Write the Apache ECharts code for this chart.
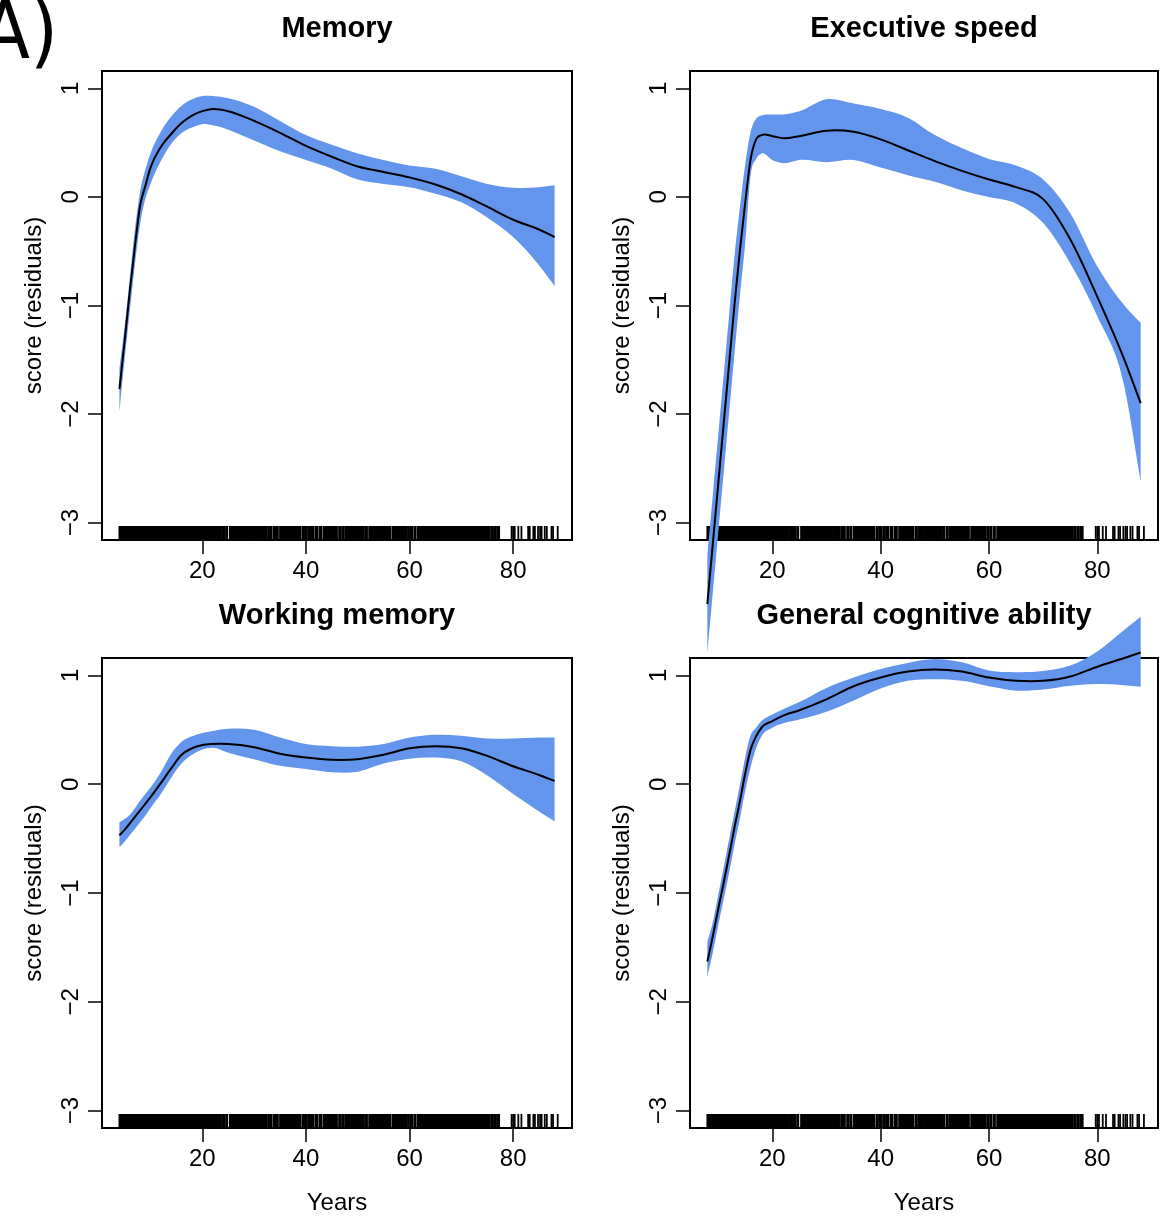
<!DOCTYPE html>
<html>
<head>
<meta charset="utf-8">
<script src="https://cdn.jsdelivr.net/npm/echarts@6/dist/echarts.min.js"></script>
<style>
  html, body { margin: 0; padding: 0; background: #fff; }
  #chart { width: 1161px; height: 1216px; }
</style>
</head>
<body>
<div id="chart"></div>
<script>
// ---------- data ----------
const panelTitles = ['Memory', 'Executive speed', 'Working memory', 'General cognitive ability'];
const xTickValues = [20, 40, 60, 80];
const yTickValues = [-3, -2, -1, 0, 1];

// ages for panels with data from age 4 (Memory, Working memory)
const agesFrom4 = [4, 5, 6, 7, 8, 9, 10, 12, 14, 16, 18, 20, 22, 25, 30, 35, 40, 45, 50, 55, 60, 65, 70, 75, 80, 85, 88];
// ages for panels with data from age 8 (Executive speed, General cognitive ability)
const agesFrom8 = [8, 9, 10, 11, 12, 13, 14, 15, 16, 17, 18, 20, 22, 25, 30, 35, 40, 45, 50, 55, 60, 65, 70, 75, 80, 85, 88];

const memoryFit   = [-1.77, -1.33, -0.87, -0.45, -0.08, 0.10, 0.27, 0.46, 0.58, 0.68, 0.75, 0.79, 0.81, 0.79, 0.70, 0.59, 0.47, 0.37, 0.28, 0.23, 0.18, 0.115, 0.025, -0.09, -0.21, -0.30, -0.37];
const memoryUpper = [-1.58, -1.20, -0.75, -0.30, 0.05, 0.25, 0.40, 0.60, 0.74, 0.84, 0.90, 0.93, 0.93, 0.91, 0.83, 0.70, 0.57, 0.48, 0.40, 0.34, 0.29, 0.26, 0.19, 0.12, 0.085, 0.09, 0.107];
const memoryLower = [-1.98, -1.50, -1.05, -0.62, -0.25, -0.02, 0.12, 0.33, 0.49, 0.59, 0.64, 0.67, 0.66, 0.62, 0.52, 0.42, 0.34, 0.26, 0.16, 0.12, 0.09, 0.03, -0.05, -0.19, -0.37, -0.63, -0.82];

const execFit   = [-3.75, -3.20, -2.65, -2.10, -1.55, -1.00, -0.50, -0.05, 0.35, 0.53, 0.57, 0.56, 0.54, 0.56, 0.61, 0.60, 0.53, 0.43, 0.33, 0.24, 0.16, 0.09, -0.02, -0.39, -0.92, -1.50, -1.90];
const execUpper = [-3.30, -2.75, -2.20, -1.65, -1.10, -0.55, -0.10, 0.30, 0.60, 0.72, 0.75, 0.76, 0.76, 0.79, 0.90, 0.86, 0.81, 0.73, 0.57, 0.45, 0.35, 0.29, 0.16, -0.15, -0.64, -1.00, -1.16];
const execLower = [-4.20, -3.65, -3.10, -2.55, -2.00, -1.45, -0.92, -0.42, 0.20, 0.35, 0.40, 0.34, 0.31, 0.34, 0.32, 0.34, 0.27, 0.20, 0.14, 0.06, 0.00, -0.06, -0.24, -0.61, -1.10, -1.75, -2.62];

const wmFit   = [-0.47, -0.42, -0.36, -0.30, -0.24, -0.18, -0.12, 0.01, 0.145, 0.27, 0.33, 0.36, 0.37, 0.37, 0.34, 0.28, 0.245, 0.225, 0.23, 0.27, 0.33, 0.35, 0.33, 0.26, 0.165, 0.085, 0.03];
const wmUpper = [-0.35, -0.32, -0.28, -0.22, -0.15, -0.09, -0.03, 0.11, 0.28, 0.39, 0.44, 0.47, 0.49, 0.51, 0.50, 0.43, 0.37, 0.35, 0.345, 0.37, 0.43, 0.455, 0.445, 0.42, 0.42, 0.43, 0.43];
const wmLower = [-0.58, -0.53, -0.47, -0.41, -0.35, -0.29, -0.22, -0.09, 0.06, 0.19, 0.27, 0.32, 0.335, 0.29, 0.23, 0.17, 0.14, 0.11, 0.115, 0.19, 0.235, 0.245, 0.21, 0.08, -0.09, -0.25, -0.34];

const gcaFit   = [-1.63, -1.40, -1.15, -0.91, -0.66, -0.40, -0.16, 0.10, 0.32, 0.44, 0.52, 0.58, 0.63, 0.68, 0.78, 0.90, 0.98, 1.035, 1.055, 1.035, 0.98, 0.95, 0.95, 0.99, 1.08, 1.16, 1.21];
const gcaUpper = [-1.45, -1.27, -1.02, -0.77, -0.51, -0.26, -0.01, 0.25, 0.45, 0.52, 0.58, 0.64, 0.69, 0.755, 0.885, 0.98, 1.06, 1.115, 1.15, 1.12, 1.045, 1.03, 1.04, 1.09, 1.22, 1.42, 1.54];
const gcaLower = [-1.77, -1.55, -1.30, -1.06, -0.82, -0.56, -0.32, -0.06, 0.16, 0.33, 0.44, 0.52, 0.56, 0.595, 0.665, 0.77, 0.88, 0.95, 0.965, 0.95, 0.90, 0.86, 0.87, 0.905, 0.92, 0.91, 0.895];

// rug: age ranges that read as solid black, and isolated ticks
const rugSpans = [[4.0, 19.6], [19.8, 22.0], [22.2, 22.4], [22.6, 22.9], [23.2, 23.5], [23.8, 24.3], [24.6, 24.8], [25.3, 25.8], [26.0, 27.9], [28.2, 28.5], [28.7, 29.0], [29.2, 29.5], [29.7, 30.0], [30.2, 30.4], [30.6, 31.0], [31.2, 32.4], [32.7, 32.9], [33.2, 33.4], [33.8, 34.1], [34.4, 34.6], [35.0, 35.5], [35.7, 38.9], [39.3, 39.5], [39.8, 40.2], [40.5, 40.8], [41.1, 41.4], [41.8, 42.2], [42.6, 43.0], [43.4, 46.0], [46.4, 46.7], [47.0, 47.3], [47.6, 47.8], [48.0, 51.2], [51.5, 51.8], [52.2, 52.4], [52.7, 53.0], [53.3, 56.3], [56.7, 59.4], [59.7, 59.9], [60.2, 60.5], [60.9, 61.1], [61.5, 61.7], [61.9, 65.2], [65.45, 68.6], [68.8, 70.2], [70.4, 71.5], [71.7, 75.5], [75.8, 76.0], [76.3, 76.6], [76.9, 77.3]];
const rugTicks = [79.7, 80.0, 80.3, 81.0, 81.6, 82.9, 83.2, 83.9, 84.2, 84.8, 85.2, 85.5, 86.1, 86.5, 87.4, 87.7, 88.6];

// ---------- chart ----------
const FONT = '"Liberation Sans", Arial, Helvetica, sans-serif';
const BAND = '#6495ED';
const Y_MIN = -3.16, Y_MAX = 1.16;

const panels = [
  { ages: agesFrom4, fit: memoryFit, up: memoryUpper, lo: memoryLower, xMin: 0.64, xMax: 91.36, firstAge: 4,
    grid: { left: 102, top: 71, width: 470, height: 469 }, titleX: 337, titleY: 29, xName: '' },
  { ages: agesFrom8, fit: execFit, up: execUpper, lo: execLower, xMin: 4.8, xMax: 91.2, firstAge: 8,
    grid: { left: 690, top: 71, width: 468, height: 469 }, titleX: 924, titleY: 29, xName: '' },
  { ages: agesFrom4, fit: wmFit, up: wmUpper, lo: wmLower, xMin: 0.64, xMax: 91.36, firstAge: 4,
    grid: { left: 102, top: 658, width: 470, height: 470 }, titleX: 337, titleY: 616, xName: 'Years' },
  { ages: agesFrom8, fit: gcaFit, up: gcaUpper, lo: gcaLower, xMin: 4.8, xMax: 91.2, firstAge: 8,
    grid: { left: 690, top: 658, width: 468, height: 470 }, titleX: 924, titleY: 616, xName: 'Years' }
];

const minusFmt = v => (v < 0 ? '\u2212' + Math.abs(v) : String(v));

// Cubic Hermite (finite-difference tangents) through pixel points, x increasing.
// Returns bezier segments [p0, c1, c2, p1] — used only for drawing.
function hermiteSegments(pts) {
  const n = pts.length, m = [];
  for (let i = 0; i < n; i++) {
    if (i === 0) m.push((pts[1][1] - pts[0][1]) / (pts[1][0] - pts[0][0]));
    else if (i === n - 1) m.push((pts[i][1] - pts[i - 1][1]) / (pts[i][0] - pts[i - 1][0]));
    else {
      const h0 = pts[i][0] - pts[i - 1][0], h1 = pts[i + 1][0] - pts[i][0];
      const s0 = (pts[i][1] - pts[i - 1][1]) / h0, s1 = (pts[i + 1][1] - pts[i][1]) / h1;
      m.push((s0 * h1 + s1 * h0) / (h0 + h1));
    }
  }
  const segs = [];
  for (let i = 0; i < n - 1; i++) {
    const h = pts[i + 1][0] - pts[i][0];
    segs.push([pts[i], [pts[i][0] + h / 3, pts[i][1] + m[i] * h / 3], [pts[i + 1][0] - h / 3, pts[i + 1][1] - m[i + 1] * h / 3], pts[i + 1]]);
  }
  return segs;
}
const P = q => q[0].toFixed(2) + ' ' + q[1].toFixed(2);
function forwardPath(segs, move) {
  let d = (move ? 'M' : 'L') + P(segs[0][0]);
  segs.forEach(s => { d += ' C' + P(s[1]) + ' ' + P(s[2]) + ' ' + P(s[3]); });
  return d;
}
function backwardPath(segs) {
  let d = 'L' + P(segs[segs.length - 1][3]);
  for (let i = segs.length - 1; i >= 0; i--) {
    const s = segs[i];
    d += ' C' + P(s[2]) + ' ' + P(s[1]) + ' ' + P(s[0]);
  }
  return d;
}

const grids = [], xAxes = [], yAxes = [], series = [], graphics = [];

panels.forEach((p, i) => {
  grids.push(Object.assign({ show: true, borderColor: '#000', borderWidth: 2, backgroundColor: 'transparent', outerBoundsMode: 'none', containLabel: false }, p.grid));
  xAxes.push({
    type: 'value', gridIndex: i, min: p.xMin, max: p.xMax, position: 'bottom',
    axisLine: { show: false, onZero: false },
    splitLine: { show: false },
    axisTick: { show: true, customValues: xTickValues, length: 14, lineStyle: { color: '#000', width: 1.5 } },
    axisLabel: { customValues: xTickValues, fontSize: 24, color: '#000', fontFamily: FONT, margin: 19 },
    name: p.xName, nameLocation: 'middle', nameGap: 63,
    nameTextStyle: { fontSize: 24, color: '#000', fontFamily: FONT }
  });
  yAxes.push({
    type: 'value', gridIndex: i, min: Y_MIN, max: Y_MAX,
    axisLine: { show: false, onZero: false },
    splitLine: { show: false },
    axisTick: { show: true, customValues: yTickValues, length: 14, lineStyle: { color: '#000', width: 1.5 } },
    axisLabel: { customValues: yTickValues, rotate: 90, fontSize: 24, color: '#000', fontFamily: FONT, margin: 19, formatter: minusFmt },
    name: 'score (residuals)', nameLocation: 'middle', nameGap: 56, nameRotate: 90,
    nameTextStyle: { fontSize: 24, color: '#000', fontFamily: FONT }
  });

  // rug
  const rugItems = rugSpans
    .filter(s => s[1] >= p.firstAge)
    .map(s => [Math.max(s[0], p.firstAge), s[1]])
    .concat(rugTicks.filter(t => t >= p.firstAge).map(t => [t, t]));
  series.push({
    type: 'custom', xAxisIndex: i, yAxisIndex: i, z: 1, silent: true, clip: false,
    data: rugItems,
    renderItem: (params, api) => {
      const a = api.coord([api.value(0), Y_MIN]);
      const b = api.coord([api.value(1), Y_MIN]);
      return {
        type: 'rect',
        shape: { x: a[0] - 0.9, y: a[1] - 14, width: Math.max(b[0] - a[0], 0) + 1.8, height: 14 },
        style: { fill: '#000' }
      };
    }
  });

  // confidence band (upper edge forward, lower edge back)
  series.push({
    type: 'custom', xAxisIndex: i, yAxisIndex: i, z: 3, silent: true, clip: false,
    data: [[p.ages[0], p.fit[0]]],
    renderItem: (params, api) => {
      const upSegs = hermiteSegments(p.ages.map((a, k) => api.coord([a, p.up[k]])));
      const loSegs = hermiteSegments(p.ages.map((a, k) => api.coord([a, p.lo[k]])));
      const d = forwardPath(upSegs, true) + ' ' + backwardPath(loSegs) + ' Z';
      return { type: 'path', shape: { pathData: d }, style: { fill: BAND, stroke: null } };
    }
  });
  // fitted curve
  series.push({
    type: 'custom', xAxisIndex: i, yAxisIndex: i, z: 4, silent: true, clip: false,
    data: [[p.ages[0], p.fit[0]]],
    renderItem: (params, api) => {
      const segs = hermiteSegments(p.ages.map((a, k) => api.coord([a, p.fit[k]])));
      return { type: 'path', shape: { pathData: forwardPath(segs, true) }, style: { fill: null, stroke: '#000', lineWidth: 2 } };
    }
  });

  graphics.push({
    type: 'text', x: p.titleX, y: p.titleY, silent: true, z: 10,
    style: { text: panelTitles[i], fontSize: 29, fontWeight: 'bold', fontFamily: FONT, fill: '#000', align: 'center', verticalAlign: 'middle' }
  });
});

graphics.push({
  type: 'text', x: 58, y: 77, silent: true, z: 10,
  style: { text: 'A)', fontSize: 80, fontFamily: '"Liberation Sans Narrow", "DejaVu Sans Condensed", ' + FONT, fill: '#000', align: 'right', verticalAlign: 'bottom' }
});

const chart = echarts.init(document.getElementById('chart'), null, { renderer: 'canvas' });
chart.setOption({
  animation: false,
  backgroundColor: '#fff',
  grid: grids,
  xAxis: xAxes,
  yAxis: yAxes,
  series: series,
  graphic: graphics
});
</script>
</body>
</html>
